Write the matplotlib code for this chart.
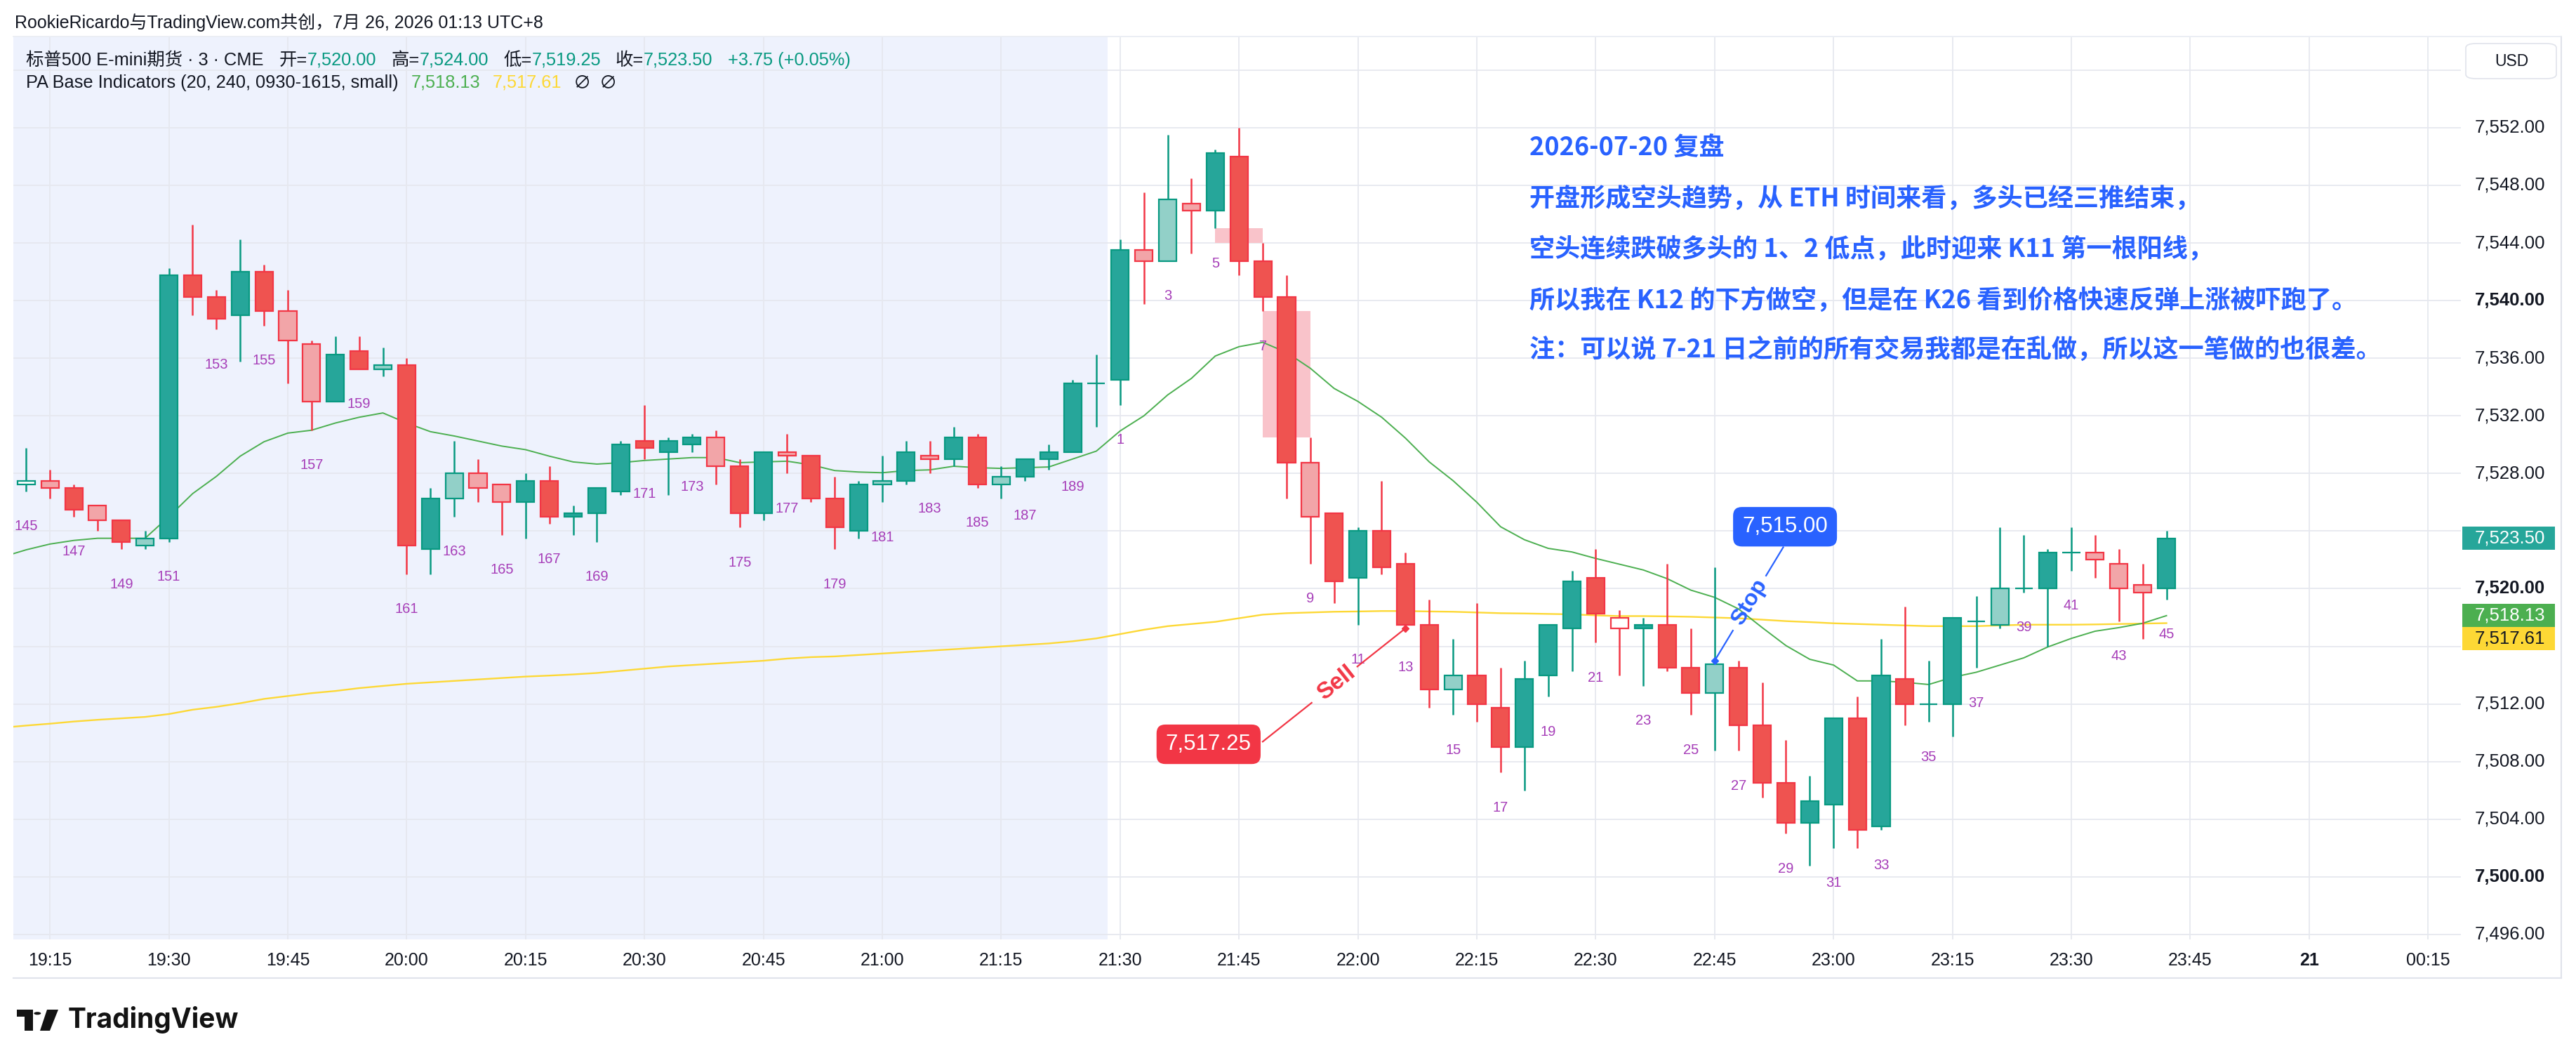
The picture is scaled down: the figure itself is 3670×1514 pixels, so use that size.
import numpy as np
import matplotlib
matplotlib.use('Agg')
import matplotlib.pyplot as plt
from matplotlib.patches import Rectangle, FancyBboxPatch, Polygon, Circle
import matplotlib.transforms as mtransforms

plt.rcParams['font.family'] = ['Liberation Sans', 'Noto Sans CJK SC', 'DejaVu Sans']

# ---------------- data ----------------
bar_numbers = list(range(145, 191)) + list(range(1, 46))

opens = [7527.25, 7527.5, 7527.0, 7525.75, 7524.75, 7523.0, 7523.5, 7541.75, 7540.25, 7539.0,
         7542.0, 7539.25, 7537.0, 7533.0, 7536.5, 7535.25, 7535.5, 7522.75, 7526.25, 7528.0,
         7527.25, 7526.0, 7527.5, 7525.0, 7525.25, 7526.75, 7530.25, 7529.5, 7530.0, 7530.5,
         7528.5, 7525.25, 7529.5, 7529.25, 7526.25, 7524.0, 7527.25, 7527.5, 7529.25, 7529.0,
         7530.5, 7527.25, 7527.75, 7529.0, 7529.5, 7534.25,
         7534.5, 7543.5, 7542.75, 7546.75, 7546.25, 7550.0, 7542.75, 7540.25, 7528.75, 7525.25,
         7520.75, 7524.0, 7521.75, 7517.5, 7513.0, 7514.0, 7511.75, 7509.0, 7514.0, 7517.25,
         7520.75, 7518.0, 7517.25, 7517.5, 7514.5, 7512.75, 7514.5, 7510.5, 7506.5, 7503.75,
         7505.0, 7511.0, 7503.5, 7513.75, 7512.0, 7512.0, 7517.75, 7517.5, 7520.0, 7520.0,
         7522.5, 7522.5, 7521.75, 7520.25, 7520.0]
highs = [7529.75, 7528.25, 7527.25, 7525.75, 7524.75, 7524.0, 7542.25, 7545.25, 7540.75, 7544.25,
         7542.5, 7540.75, 7537.25, 7537.5, 7537.5, 7536.75, 7536.0, 7527.0, 7530.25, 7529.0,
         7527.25, 7528.0, 7528.5, 7525.75, 7527.0, 7530.25, 7532.75, 7530.5, 7530.75, 7531.0,
         7529.0, 7529.5, 7530.75, 7529.25, 7527.75, 7527.5, 7529.25, 7530.25, 7530.25, 7531.25,
         7530.75, 7528.5, 7529.0, 7530.0, 7534.5, 7536.25,
         7544.25, 7547.5, 7551.5, 7548.5, 7550.5, 7552.0, 7544.0, 7541.75, 7530.5, 7525.25,
         7524.25, 7527.5, 7522.5, 7519.25, 7516.5, 7519.0, 7514.5, 7515.0, 7517.5, 7521.25,
         7522.75, 7518.5, 7518.0, 7521.75, 7517.25, 7521.5, 7515.0, 7513.5, 7509.5, 7507.0,
         7511.0, 7512.5, 7516.5, 7518.75, 7515.0, 7518.0, 7519.5, 7524.25, 7523.75, 7522.75,
         7524.25, 7523.75, 7522.75, 7521.75, 7524.0]
lows = [7526.75, 7526.25, 7525.0, 7524.0, 7522.75, 7522.75, 7523.25, 7539.0, 7538.0, 7535.75,
        7538.25, 7534.25, 7531.0, 7533.0, 7535.25, 7534.75, 7521.0, 7521.0, 7525.0, 7526.0,
        7523.75, 7523.5, 7524.5, 7523.75, 7523.25, 7526.5, 7529.0, 7526.5, 7529.5, 7527.25,
        7524.25, 7524.75, 7528.0, 7526.0, 7522.75, 7523.5, 7526.0, 7527.25, 7528.0, 7528.5,
        7527.0, 7526.25, 7527.5, 7528.25, 7529.5, 7531.25,
        7532.75, 7539.75, 7542.75, 7543.25, 7545.0, 7541.75, 7539.25, 7526.25, 7521.75, 7519.0,
        7517.5, 7521.0, 7517.0, 7511.75, 7511.25, 7510.75, 7507.25, 7506.0, 7512.5, 7514.25,
        7516.25, 7514.0, 7513.25, 7514.25, 7511.25, 7508.75, 7508.75, 7505.5, 7503.0, 7500.75,
        7502.0, 7502.0, 7503.25, 7510.5, 7510.75, 7509.75, 7514.5, 7517.25, 7519.75, 7516.0,
        7521.25, 7520.75, 7517.75, 7516.5, 7519.25]
closes = [7527.5, 7527.0, 7525.5, 7524.75, 7523.25, 7523.5, 7541.75, 7540.25, 7538.75, 7542.0,
          7539.25, 7537.25, 7533.0, 7536.25, 7535.25, 7535.5, 7523.0, 7526.25, 7528.0, 7527.0,
          7526.0, 7527.5, 7525.0, 7525.25, 7527.0, 7530.0, 7529.75, 7530.25, 7530.5, 7528.5,
          7525.25, 7529.5, 7529.25, 7526.25, 7524.25, 7527.25, 7527.5, 7529.5, 7529.0, 7530.5,
          7527.25, 7527.75, 7529.0, 7529.5, 7534.25, 7534.25,
          7543.5, 7542.75, 7547.0, 7546.25, 7550.25, 7542.75, 7540.25, 7528.75, 7525.0, 7520.5,
          7524.0, 7521.5, 7517.5, 7513.0, 7514.0, 7512.0, 7509.0, 7513.75, 7517.5, 7520.5,
          7518.25, 7517.25, 7517.5, 7514.5, 7512.75, 7514.75, 7510.5, 7506.5, 7503.75, 7505.25,
          7511.0, 7503.25, 7514.0, 7512.0, 7512.0, 7518.0, 7517.75, 7520.0, 7520.0, 7522.5,
          7522.5, 7522.0, 7520.0, 7519.75, 7523.5]
# bar strength from the indicator: S = strong (solid), W = weak (light), H = hollow
bar_strength = ['H', 'W', 'S', 'W', 'S', 'W', 'S', 'S', 'S', 'S',
                'S', 'W', 'W', 'S', 'S', 'W', 'S', 'S', 'W', 'W',
                'W', 'S', 'S', 'S', 'S', 'S', 'S', 'S', 'S', 'W',
                'S', 'S', 'W', 'S', 'S', 'S', 'W', 'S', 'W', 'S',
                'S', 'W', 'S', 'S', 'S', 'S',
                'S', 'W', 'W', 'W', 'S', 'S', 'S', 'S', 'W', 'S',
                'S', 'S', 'S', 'S', 'W', 'S', 'S', 'S', 'S', 'S',
                'S', 'H', 'S', 'S', 'S', 'W', 'S', 'S', 'S', 'S',
                'S', 'S', 'S', 'S', 'S', 'S', 'S', 'W', 'S', 'S',
                'S', 'W', 'W', 'W', 'S']

# moving averages (first value belongs to the off-screen bar 144)
ema20 = [7522.2, 7522.7, 7523.1, 7523.35, 7523.5, 7523.5, 7523.5, 7525.0, 7526.6, 7527.8,
         7529.2, 7530.2, 7530.8, 7531.0, 7531.5, 7531.9, 7532.2, 7531.5, 7530.9, 7530.6,
         7530.25, 7529.9, 7529.65, 7529.2, 7528.8, 7528.65, 7528.75, 7528.9, 7529.0, 7529.1,
         7529.1, 7528.75, 7528.8, 7528.85, 7528.6, 7528.2, 7528.1, 7528.05, 7528.2, 7528.25,
         7528.5, 7528.4, 7528.35, 7528.4, 7528.45, 7529.0, 7529.55,
         7530.95, 7532.0, 7533.45, 7534.6, 7536.15, 7536.8, 7537.1, 7536.4, 7535.3, 7533.9,
         7533.0, 7531.9, 7530.45, 7528.8, 7527.5, 7526.0, 7524.3, 7523.4, 7522.8, 7522.55,
         7522.1, 7521.7, 7521.3, 7520.7, 7519.9, 7519.4, 7518.6, 7517.3, 7516.05, 7515.1,
         7514.7, 7513.6, 7513.6, 7513.5, 7513.35, 7513.85, 7514.2, 7514.7, 7515.2, 7515.95,
         7516.55, 7517.05, 7517.3, 7517.6, 7518.13]
ma240 = [7510.35, 7510.5, 7510.63, 7510.78, 7510.9, 7511.0, 7511.1, 7511.3, 7511.6, 7511.8,
         7512.05, 7512.35, 7512.55, 7512.75, 7512.9, 7513.1, 7513.25, 7513.4, 7513.5, 7513.6,
         7513.7, 7513.8, 7513.9, 7513.97, 7514.05, 7514.15, 7514.3, 7514.45, 7514.6, 7514.7,
         7514.8, 7514.9, 7515.0, 7515.15, 7515.25, 7515.3, 7515.4, 7515.5, 7515.6, 7515.7,
         7515.8, 7515.9, 7516.0, 7516.1, 7516.2, 7516.35, 7516.55,
         7516.85, 7517.15, 7517.4, 7517.55, 7517.7, 7517.95, 7518.2, 7518.3, 7518.35, 7518.4,
         7518.42, 7518.45, 7518.45, 7518.42, 7518.4, 7518.35, 7518.3, 7518.28, 7518.25, 7518.22,
         7518.15, 7518.1, 7518.1, 7518.08, 7518.05, 7518.0, 7517.95, 7517.85, 7517.75, 7517.68,
         7517.6, 7517.55, 7517.5, 7517.45, 7517.4, 7517.4, 7517.4, 7517.45, 7517.5, 7517.5,
         7517.5, 7517.52, 7517.55, 7517.58, 7517.61]

time_labels = ['19:15', '19:30', '19:45', '20:00', '20:15', '20:30', '20:45', '21:00', '21:15',
               '21:30', '21:45', '22:00', '22:15', '22:30', '22:45', '23:00', '23:15', '23:30',
               '23:45', '21', '00:15']
time_label_bar = [1 + 5 * i for i in range(len(time_labels))]   # bar slot of each label
price_ticks = list(range(7496, 7557, 4))
hidden_price_labels = [7556, 7524, 7516]   # covered by the USD box / price tags

# annotation data
zone_bars = [(50, 52), (52, 54)]
zone_prices = [(7544.0, 7545.0), (7530.5, 7539.25)]
sell_bar, sell_price = 58, 7517.25
stop_bar, stop_price = 71, 7515.00

note_lines = ['2026-07-20 复盘',
              '开盘形成空头趋势，从 ETH 时间来看，多头已经三推结束，',
              '空头连续跌破多头的 1、2 低点，此时迎来 K11 第一根阳线，',
              '所以我在 K12 的下方做空，但是在 K26 看到价格快速反弹上涨被吓跑了。',
              '注：可以说 7-21 日之前的所有交易我都是在乱做，所以这一笔做的也很差。']

# ---------------- figure ----------------
W, H = 3670, 1514
fig = plt.figure(figsize=(W / 100, H / 100), dpi=100)
fig.patch.set_facecolor('white')
PL, PR, PT, PB = 19, 3506, 53, 1338
ax = fig.add_axes([PL / W, 1 - PB / H, (PR - PL) / W, (PB - PT) / H])
ax.set_xlim(-0.54, 102.38)
ax.set_ylim(7495.655, 7558.28)
ax.set_facecolor('white')
for s in ax.spines.values():
    s.set_visible(False)
ax.set_xticks([])
ax.set_yticks([])

def fx(x):
    return x / W

def fy(y):
    return 1 - y / H

DARK = '#131722'
UP_FILL, UP_EDGE = '#26A69A', '#089981'
DN_FILL, DN_EDGE = '#EF5350', '#F23645'
UP_LIGHT, DN_LIGHT = '#92D0C8', '#F2A5A8'
GRID = '#E6E8EF'

# session shading (previous session)
ax.axvspan(-0.54, 45.47, color='#EEF2FD', zorder=0, lw=0)

# grid
for b in time_label_bar:
    ax.axvline(b, color=GRID, lw=1.3, zorder=0.5)
for pt in price_ticks:
    ax.axhline(pt, color=GRID, lw=1.3, zorder=0.5)

# zones
for (b0, b1), (p0, p1) in zip(zone_bars, zone_prices):
    ax.add_patch(Rectangle((b0, p0), b1 - b0, p1 - p0, facecolor='#F9C3CA', edgecolor='none', zorder=1))

# moving averages
xma = np.arange(-1, len(opens))
ax.plot(xma, ema20, color='#4CAF50', lw=1.4, zorder=1.6)
ax.plot(xma, ma240, color='#FDD835', lw=1.7, zorder=1.5)

# candles
xs = np.arange(len(opens))
bw = 0.74
for i in range(len(opens)):
    o, h, l, c, st = opens[i], highs[i], lows[i], closes[i], bar_strength[i]
    up = c >= o
    edge = UP_EDGE if up else DN_EDGE
    if st == 'S':
        face = UP_FILL if up else DN_FILL
    elif st == 'W':
        face = UP_LIGHT if up else DN_LIGHT
    else:
        face = 'white'
    ax.vlines(xs[i], l, h, color=edge, lw=1.8, zorder=2.5)
    lo, hi = min(o, c), max(o, c)
    ax.add_patch(Rectangle((xs[i] - bw / 2, lo), bw, hi - lo, facecolor=face,
                           edgecolor=edge, lw=1.6, zorder=3))

# bar numbers
for i, n in enumerate(bar_numbers):
    if n % 2 == 1:
        ax.annotate(str(n), xy=(xs[i], lows[i]), xytext=(0, -36), textcoords='offset points',
                    ha='center', va='center', color='#A63DB8', fontsize=14.5, zorder=4)

# ---- callouts ----
fig.canvas.draw()

def seg_with_gap(A, B, g0, g1, color):
    A = np.array(A); B = np.array(B)
    P0 = A + (B - A) * g0
    P1 = A + (B - A) * g1
    ax.plot([A[0], P0[0]], [A[1], P0[1]], color=color, lw=1.6, zorder=5, solid_capstyle='butt')
    ax.plot([P1[0], B[0]], [P1[1], B[1]], color=color, lw=1.6, zorder=5, solid_capstyle='butt')

def disp_angle(A, B):
    a = ax.transData.transform(A)
    b = ax.transData.transform(B)
    return np.degrees(np.arctan2(b[1] - a[1], b[0] - a[0]))

box_style = dict(boxstyle='round,pad=0.42,rounding_size=0.4', ec='none')

# Sell
sell_box = (49.72, 7509.2)
A = (51.97, 7509.35)
B = (sell_bar, sell_price)
seg_with_gap(A, B, 0.35, 0.66, '#F23645')
mid = (A[0] + (B[0] - A[0]) * 0.52, A[1] + (B[1] - A[1]) * 0.52)
ax.text(mid[0], mid[1], 'Sell', rotation=disp_angle(A, B), rotation_mode='anchor',
        ha='center', va='center', color='#F23645', fontsize=24, fontweight='bold', zorder=6)
ax.plot([B[0]], [B[1]], marker='D', ms=5, color='#F23645', zorder=6)
ax.text(sell_box[0], sell_box[1], f'{sell_price:,.2f}', ha='center', va='center', color='white',
        fontsize=22.5, zorder=7, bbox=dict(fc='#F23645', **box_style))

# Stop
stop_box = (73.96, 7524.3)
A2 = (73.9, 7522.92)
B2 = (stop_bar, stop_price)
seg_with_gap(A2, B2, 0.26, 0.73, '#2962FF')
mid2 = (A2[0] + (B2[0] - A2[0]) * 0.49, A2[1] + (B2[1] - A2[1]) * 0.49)
ax.text(mid2[0], mid2[1], 'Stop', rotation=disp_angle(B2, A2), rotation_mode='anchor',
        ha='center', va='center', color='#2962FF', fontsize=23, fontweight='bold', zorder=6)
ax.plot([B2[0]], [B2[1]], marker='D', ms=5, color='#2962FF', zorder=6)
ax.text(stop_box[0], stop_box[1], f'{stop_price:,.2f}', ha='center', va='center', color='white',
        fontsize=22.5, zorder=7, bbox=dict(fc='#2962FF', **box_style))

# ---- note text ----
note_y = [211.7, 283, 355, 428, 498]
for s, y in zip(note_lines, note_y):
    fig.text(fx(2179), fy(y), s, ha='left', va='center', color='#2962FF', fontsize=26,
             fontweight='bold', family=['Noto Sans CJK SC', 'DejaVu Sans'])

# ---- right price axis ----
trans = mtransforms.blended_transform_factory(fig.transFigure, ax.transData)
bold_prices = {7540, 7520, 7500}
for pt in price_ticks:
    if pt in hidden_price_labels:
        continue
    ax.text(fx(3526), pt, f'{pt:,.2f}', transform=trans, ha='left', va='center', color=DARK,
            fontsize=18.5, fontweight='bold' if pt in bold_prices else 'normal', clip_on=False, zorder=8)

def tag(price_center, text, fc, tc):
    hgt = 33 / 20.52
    ax.add_patch(Rectangle((fx(3508), price_center - hgt / 2), fx(3640) - fx(3508), hgt,
                           transform=trans, facecolor=fc, edgecolor='none', clip_on=False, zorder=9))
    ax.text(fx(3526), price_center, text, transform=trans, ha='left', va='center', color=tc,
            fontsize=18.5, clip_on=False, zorder=10)

last_close = closes[-1]
tag(last_close, f'{last_close:,.2f}', '#26A69A', 'white')
tag(ema20[-1], f'{ema20[-1]:,.2f}', '#4CAF50', 'white')
tag(ema20[-1] - 33 / 20.52, f'{ma240[-1]:,.2f}', '#FDD835', DARK)

# USD box
fig.patches.append(FancyBboxPatch((fx(3513), fy(112)), fx(3642) - fx(3513), fy(62) - fy(112),
                                  boxstyle='round,pad=0,rounding_size=0.004', transform=fig.transFigure,
                                  facecolor='white', edgecolor='#E0E3EB', lw=1.2))
fig.text(fx(3578), fy(87), 'USD', ha='center', va='center', color=DARK, fontsize=16.5)

# ---- time axis ----
for b, lab in zip(time_label_bar, time_labels):
    xdisp = ax.transData.transform((b, 7500))[0]
    fig.text(xdisp / W, fy(1368), lab, ha='center', va='center', color=DARK, fontsize=18,
             fontweight='bold' if lab == '21' else 'normal')

# widget borders
fig.add_artist(plt.Line2D([fx(19), fx(3649)], [fy(1393), fy(1393)], color='#E0E3EB', lw=1.5))
fig.add_artist(plt.Line2D([fx(3649), fx(3649)], [fy(52), fy(1393)], color='#E0E3EB', lw=1.5))
fig.add_artist(plt.Line2D([fx(19), fx(3649)], [fy(52), fy(52)], color='#E8EBF2', lw=1.2))

# ---- header ----
renderer = fig.canvas.get_renderer()

def seq_text(x_px, y_px, parts, size):
    x = x_px
    for s, c, gap in parts:
        t = fig.text(fx(x), fy(y_px), s, color=c, ha='left', va='center', fontsize=size, zorder=10)
        bb = t.get_window_extent(renderer)
        x += bb.width + gap

seq_text(21, 32, [('RookieRicardo与TradingView.com共创，7月 26, 2026 01:13 UTC+8', DARK, 0)], 18)

GREEN_TXT = '#089981'
prev_close = closes[-2]
chg = last_close - prev_close
seq_text(37, 86, [
    ('标普500 E-mini期货 · 3 · CME', DARK, 22),
    ('开=', DARK, 0), (f'{opens[-1]:,.2f}', GREEN_TXT, 21),
    ('高=', DARK, 0), (f'{highs[-1]:,.2f}', GREEN_TXT, 21),
    ('低=', DARK, 0), (f'{lows[-1]:,.2f}', GREEN_TXT, 21),
    ('收=', DARK, 0), (f'{last_close:,.2f}', GREEN_TXT, 21),
    (f'{chg:+.2f} ({chg / prev_close * 100:+.2f}%)', GREEN_TXT, 0)], 18.3)
seq_text(37, 118, [
    ('PA Base Indicators (20, 240, 0930-1615, small)', DARK, 18),
    (f'{ema20[-1]:,.2f}', '#4CAF50', 17),
    (f'{ma240[-1]:,.2f}', '#FDD835', 17),
    ('∅', DARK, 12), ('∅', DARK, 0)], 18.3)

# ---- TradingView logo ----
fig.patches.append(Polygon([(fx(24), fy(1438)), (fx(47), fy(1438)), (fx(47), fy(1468)),
                            (fx(35), fy(1468)), (fx(35), fy(1448)), (fx(24), fy(1448))],
                           closed=True, transform=fig.transFigure, facecolor='#131313', edgecolor='none'))
fig.patches.append(Circle((fx(53.3), fy(1443.3)), 5 / W, transform=fig.transFigure,
                          facecolor='#131313', edgecolor='none'))
fig.patches.append(Polygon([(fx(67), fy(1438)), (fx(83), fy(1438)), (fx(71), fy(1468)), (fx(57), fy(1468))],
                           closed=True, transform=fig.transFigure, facecolor='#131313', edgecolor='none'))
fig.text(fx(97), fy(1453), 'TradingView', ha='left', va='center', color='#131313', fontsize=28,
         fontweight='bold', family=['Inter', 'DejaVu Sans'])

fig.savefig('out.png', dpi=100, facecolor='white')
